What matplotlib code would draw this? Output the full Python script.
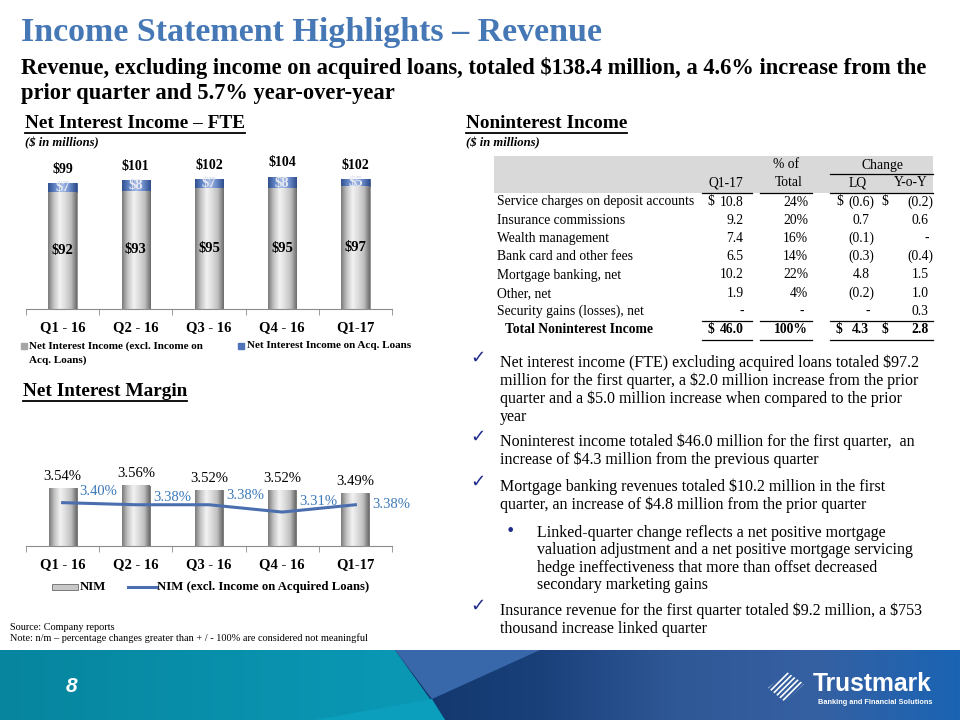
import numpy as np
import matplotlib
matplotlib.use("Agg")
import matplotlib.pyplot as plt
from matplotlib.colors import LinearSegmentedColormap
from matplotlib.patches import Rectangle, Polygon
from matplotlib.lines import Line2D

SERIF = "Liberation Serif"
SANS = "Liberation Sans"

# ---- data ----
quarters = ["Q1 - 16", "Q2 - 16", "Q3 - 16", "Q4 - 16", "Q1-17"]
nii_core = [92, 93, 95, 95, 97]          # NII excl. income on acquired loans ($M)
nii_acq = [7, 8, 7, 8, 5]                # NII on acquired loans ($M)
nii_total = [99, 101, 102, 104, 102]
nim = [3.54, 3.56, 3.52, 3.52, 3.49]     # %
nim_core = [3.40, 3.38, 3.38, 3.31, 3.38]

fee_items = ["Service charges on deposit accounts", "Insurance commissions",
             "Wealth management", "Bank card and other fees", "Mortgage banking, net",
             "Other, net", "Security gains (losses), net"]
fee_q1_17 = [10.8, 9.2, 7.4, 6.5, 10.2, 1.9, None]
fee_pct = [24, 20, 16, 14, 22, 4, None]
fee_lq = [-0.6, 0.7, -0.1, -0.3, 4.8, -0.2, None]
fee_yoy = [-0.2, 0.6, None, -0.4, 1.5, 1.0, 0.3]
fee_total = [46.0, 100, 4.3, 2.8]

title = "Income Statement Highlights \u2013 Revenue"
subtitle = ["Revenue, excluding income on acquired loans, totaled $138.4 million, a 4.6% increase from the",
            "prior quarter and 5.7% year-over-year"]
bullets = [
    (363, False, ["Net interest income (FTE) excluding acquired loans totaled $97.2",
                  "million for the first quarter, a $2.0 million increase from the prior",
                  "quarter and a $5.0 million increase when compared to the prior",
                  "year"]),
    (442, False, ["Noninterest income totaled $46.0 million for the first quarter,  an",
                  "increase of $4.3 million from the previous quarter"]),
    (487, False, ["Mortgage banking revenues totaled $10.2 million in the first",
                  "quarter, an increase of $4.8 million from the prior quarter"]),
    (533, True, ["Linked-quarter change reflects a net positive mortgage",
                 "valuation adjustment and a net positive mortgage servicing",
                 "hedge ineffectiveness that more than offset decreased",
                 "secondary marketing gains"]),
    (611, False, ["Insurance revenue for the first quarter totaled $9.2 million, a $753",
                  "thousand increase linked quarter"]),
]

GRAY_BAR = LinearSegmentedColormap.from_list(
    "gbar", ["#7A7A7A", "#C4C4C4", "#F2F2F2", "#DCDCDC", "#BEBEBE", "#6A6A6A"])
BLUE_BAR = LinearSegmentedColormap.from_list(
    "bbar", ["#2F4F8F", "#6688C8", "#A8BDE6", "#6A89C8", "#2E4C8A"])
LINE_C = "#4A6EAE"
LABEL_C = "#3A78B8"

fig = plt.figure(figsize=(9.6, 7.2), dpi=100)
bg = fig.add_axes([0, 0, 1, 1])
bg.set_xlim(0, 960)
bg.set_ylim(720, 0)
bg.axis("off")
renderer = fig.canvas.get_renderer()


def fit(text, width, **kw):
    """font size that makes `text` `width` pixels wide"""
    t = bg.text(0, 0, text, fontsize=10, parse_math=False, **kw)
    w = t.get_window_extent(renderer).width
    t.remove()
    return 10 * width / w


def put(x, y, s, size, **kw):
    kw.setdefault("family", SERIF)
    kw.setdefault("va", "center")
    return bg.text(x, y, s, fontsize=size, parse_math=False, **kw)


def underline(t, y, lw=1.3):
    bb = t.get_window_extent(renderer)
    bg.plot([bb.x0, bb.x1], [y, y], color="black", lw=lw)


def px_rect(x0, y0, x1, y1):
    return [x0 / 960, 1 - y1 / 720, (x1 - x0) / 960, (y1 - y0) / 720]


def shade(ax, bars, cmap):
    grad = np.linspace(0, 1, 128)[None, :]
    for b in bars:
        x, y = b.get_xy()
        im = ax.imshow(grad, cmap=cmap, aspect="auto", interpolation="bilinear",
                       extent=(x, x + b.get_width(), y, y + b.get_height()),
                       zorder=b.get_zorder() + 0.1)
        im.set_clip_path(b)
        im.set_clip_box(ax.bbox)


def style_cat_axis(ax):
    for s in ("left", "top", "right"):
        ax.spines[s].set_visible(False)
    ax.spines["bottom"].set_color("#8C8C8C")
    ax.set_yticks([])
    ax.set_xticks(range(len(quarters)))
    ax.set_xticklabels(quarters, family=SERIF, weight="bold", fontsize=10.5)
    ax.set_xticks(np.arange(-0.5, len(quarters)), minor=True)
    ax.tick_params(axis="x", which="major", length=0, pad=9)
    ax.tick_params(axis="x", which="minor", length=4, color="#8C8C8C")
    ax.set_xlim(-0.5, len(quarters) - 0.5)
    ax.patch.set_alpha(0)


# ---- headings ----
s = fit(title, 585, family=SERIF, weight="bold")
put(21, 33, title, s, weight="bold", color="#4678B6")
s = fit(subtitle[0], 910, family=SERIF, weight="bold")
put(21, 68, subtitle[0], s, weight="bold")
put(21, 93, subtitle[1], s, weight="bold")

hs = fit("Net Interest Income \u2013 FTE", 221, family=SERIF, weight="bold")
for x, y, txt in [(25, 124, "Net Interest Income \u2013 FTE"), (466, 124, "Noninterest Income"),
                  (23, 392, "Net Interest Margin")]:
    underline(put(x, y, txt, hs, weight="bold"), y + 9)
ms = fit("($ in millions)", 74, family=SERIF, weight="bold", style="italic")
put(25, 143, "($ in millions)", ms, weight="bold", style="italic")
put(466, 143, "($ in millions)", ms, weight="bold", style="italic")

# ---- Net interest income bars ----
x = np.arange(len(quarters))
ax1 = fig.add_axes(px_rect(26, 150, 392, 309))
core = ax1.bar(x, nii_core, width=0.39, color="#D0D0D0", edgecolor="#8A8A8A", lw=0.6)
acq = ax1.bar(x, nii_acq, bottom=nii_core, width=0.39, color="#4F72B8",
              edgecolor="#3A5A9A", lw=0.6)
shade(ax1, core, GRAY_BAR)
shade(ax1, acq, BLUE_BAR)
for i in x:
    ax1.text(i, nii_core[i] / 2, f"${nii_core[i]}", ha="center", va="center",
             family=SERIF, weight="bold", fontsize=10.5, zorder=5)
    ax1.text(i, nii_core[i] + nii_acq[i] / 2, f"${nii_acq[i]}", ha="center", va="center",
             family=SERIF, weight="bold", fontsize=10.5, color="#E4E8F0", zorder=5)
    ax1.annotate(f"${nii_total[i]}", (i, nii_total[i]), xytext=(0, 14),
                 textcoords="offset pixels", ha="center", va="center",
                 family=SERIF, weight="bold", fontsize=10)
ax1.set_ylim(0, 125)
style_cat_axis(ax1)

ls = fit("Net Interest Income on Acq. Loans", 166, family=SERIF, weight="bold")
bg.add_patch(Rectangle((21, 343), 6, 6, color="#A6A6A6"))
put(29, 346, "Net Interest Income (excl. Income on", ls, weight="bold")
put(29, 360, "Acq. Loans)", ls, weight="bold")
bg.add_patch(Rectangle((238, 343), 6, 6, color="#4F72B8"))
put(247, 346, "Net Interest Income on Acq. Loans", ls, weight="bold")

# ---- NIM ----
ax2 = fig.add_axes(px_rect(26, 440, 392, 546))
nb = ax2.bar(x, nim, width=0.38, color="#C8C8C8", edgecolor="#6A6A6A", lw=0.6)
shade(ax2, nb, GRAY_BAR)
ax2.plot(x, nim_core, color=LINE_C, lw=2.2, zorder=6)
dy = [11, 7, 9, 11, 0]
for i in x:
    ax2.annotate(f"{nim[i]:.2f}%", (i, nim[i]), xytext=(0, 12), textcoords="offset pixels",
                 ha="center", va="center", family=SERIF, fontsize=10.5)
    ax2.annotate(f"{nim_core[i]:.2f}%", (i, nim_core[i]), xytext=(36, dy[i]),
                 textcoords="offset pixels", ha="center", va="center",
                 family=SERIF, fontsize=10.5, color=LABEL_C)
ax2.set_ylim(2.985, 4.0)
style_cat_axis(ax2)

ns = fit("NIM (excl. Income on Acquired Loans)", 213, family=SERIF, weight="bold")
bg.add_patch(Rectangle((52, 584), 26, 6, facecolor="#C8C8C8", edgecolor="#6A6A6A", lw=0.6))
put(80, 587, "NIM", ns, weight="bold")
bg.add_line(Line2D([128, 157], [587, 587], color=LINE_C, lw=2.2))
put(157, 587, "NIM (excl. Income on Acquired Loans)", ns, weight="bold")

src = fit("Note: n/m \u2013 percentage changes greater than + / - 100% are considered not meaningful",
          356, family=SERIF)
put(10, 627, "Source: Company reports", src)
put(10, 638, "Note: n/m \u2013 percentage changes greater than + / - 100% are considered not meaningful", src)

# ---- noninterest income table ----
ts = fit(fee_items[0], 196, family=SERIF)
bg.add_patch(Rectangle((494, 156), 439, 37, color="#D9D9D9", lw=0))
for xx, yy, txt in [(786, 165, "% of"), (882, 165, "Change"), (726, 183, "Q1-17"),
                    (789, 183, "Total"), (858, 183, "LQ"), (911, 183, "Y-o-Y")]:
    put(xx, yy, txt, ts, ha="center")
bg.plot([830, 933], [174, 174], color="black", lw=0.9)
segs = [(702, 752), (760, 812), (830, 933)]


def num(v, pct=False):
    if v is None:
        return "-", 4
    if pct:
        return f"{v:.0f}%", 0
    if v < 0:
        return f"({-v:.1f})", 0
    return f"{v:.1f}", 4.5


def hline(y):
    for a, b in segs:
        bg.plot([a, b], [y, y], color="black", lw=0.9)


hline(193)
for r, item in enumerate(fee_items):
    y = 202 + 18.25 * r
    put(497, y, item, ts)
    for v, xr, is_pct in [(fee_q1_17[r], 748, False), (fee_pct[r], 808, True),
                          (fee_lq[r], 874, False), (fee_yoy[r], 933, False)]:
        t, off = num(v, is_pct)
        put(xr - off, y, t, ts, ha="right")
    if r == 0:
        for xd in (707, 836, 881):
            put(xd, y, "$", ts)
yt = 202 + 18.25 * len(fee_items)
hline(yt - 9)
put(505, yt, "Total Noninterest Income", ts, weight="bold")
for xd in (707, 836, 881):
    put(xd, yt, "$", ts, weight="bold")
for v, xr, is_pct in [(fee_total[0], 748, False), (fee_total[1], 808, True),
                      (fee_total[2], 874, False), (fee_total[3], 933, False)]:
    t, off = num(v, is_pct)
    put(xr - off, yt, t, ts, ha="right", weight="bold")
hline(yt + 10)

# ---- commentary bullets ----
bs = fit(bullets[0][2][0], 419, family=SERIF)
for y0, sub, lines in bullets:
    if sub:
        put(506, y0 - 2, "\u2022", bs, color="#1F2A8C", family="DejaVu Sans")
        xt, step = 537, 17.4
    else:
        put(470, y0 - 5, "\u2713", bs * 1.15, color="#1F2A8C", family="DejaVu Sans",
            weight="bold")
        xt, step = 500, 18
    for k, line in enumerate(lines):
        put(xt, y0 + step * k, line, bs)

# ---- footer banner ----
teal = LinearSegmentedColormap.from_list("teal", [(0, "#07859E"), (0.4, "#0A97B4"), (1, "#0BA3C0")])
navy = LinearSegmentedColormap.from_list(
    "navy", [(0, "#10366B"), (0.25, "#1A407A"), (0.5, "#2F5896"), (0.75, "#3560A2"), (1, "#1A64B4")])
grad = np.linspace(0, 1, 256)[None, :]
bg.imshow(grad, cmap=teal, extent=(0, 960, 720, 650), aspect="auto", zorder=1)
navy_poly = Polygon([(395, 650), (960, 650), (960, 720), (445, 720)], closed=True,
                    lw=0, facecolor="none", transform=bg.transData)
bg.add_patch(navy_poly)
im = bg.imshow(grad, cmap=navy, extent=(395, 960, 720, 650), aspect="auto", zorder=2)
im.set_clip_path(navy_poly)
bg.add_patch(Polygon([(395, 650), (540, 650), (432, 699)], closed=True,
                     facecolor="#3868AA", lw=0, zorder=3))
bg.add_patch(Polygon([(315, 720), (432, 699), (445, 720)], closed=True,
                     facecolor="#0B9FBD", lw=0, zorder=3))
bg.set_xlim(0, 960)
bg.set_ylim(720, 0)
put(66, 686, "8", 15, family=SANS, weight="bold", style="italic", color="white", zorder=5)

plt.rcParams["hatch.linewidth"] = 1.2
bg.add_patch(Polygon([(768, 688), (787, 672), (804, 684), (785, 702)], closed=True,
                     facecolor="none", edgecolor="white", hatch="//////", lw=0, zorder=5))
tm = fit("Trustmark", 119, family=SANS, weight="bold")
put(813, 684, "Trustmark", tm, family=SANS, weight="bold", color="white", zorder=5)
tg = fit("Banking and Financial Solutions", 113, family=SANS, weight="bold")
put(818, 702, "Banking and Financial Solutions", tg, family=SANS, weight="bold",
    color="white", zorder=5)

fig.savefig("out.png", dpi=100)
